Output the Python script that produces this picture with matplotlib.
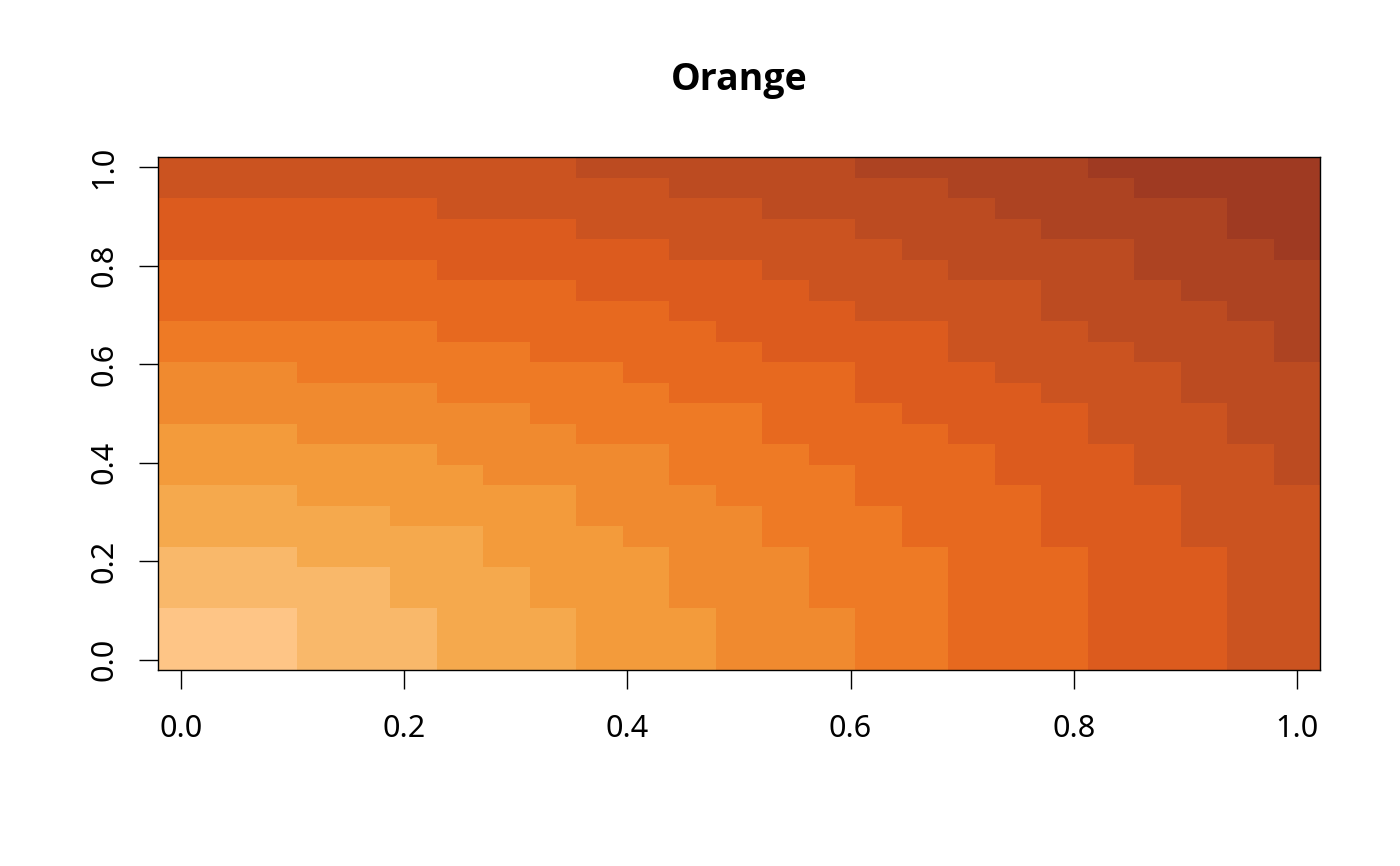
import numpy as np
import matplotlib.pyplot as plt
from matplotlib.colors import ListedColormap, BoundaryNorm

plt.rcParams['font.family'] = ['Noto Sans', 'DejaVu Sans']

# 25 x 25 grid on [0, 1] x [0, 1]
x_vals = np.linspace(0, 1, 25)
y_vals = np.linspace(0, 1, 25)

# colour class of each cell (1..9, a=10, b=11, c=12), bottom row first
level_rows = [
    "111 222 333 444 555 66 777 888 99",
    "111 222 333 444 555 66 777 888 99",
    "111 222 333 444 555 66 777 888 99",
    "22222 333 444 555 666 777 888 99",
    "22222 333 444 555 666 777 888 99",
    "222 3333 4444 555 666 777 888 99",
    "3333333 444 555 666 777 888 999",
    "33333 4444 5555 666 777 888 999",
    "333 444444 555 666 7777 888 999",
    "4444444 5555 6666 777 888 999 a",
    "444444 55555 666 7777 888 999 a",
    "444 555555 6666 7777 888 999 aa",
    "55555555 66666 777 8888 999 aa",
    "555555 66666 7777 8888 999 aaa",
    "555 6666666 77777 888 9999 aaa",
    "66666666 77777 8888 9999 aaa b",
    "666666 777777 88888 999 aaaa b",
    "77777777777 8888 9999 aaaa bb",
    "777777777 88888 99999 aaa bbb",
    "777777 8888888 9999 aaaa bbbb",
    "88888888888 99999 aaaaa bbb c",
    "888888888 999999 aaaa bbbb cc",
    "888888 9999999 aaaaa bbbbb cc",
    "99999999999 aaaaaa bbbb cccc",
    "999999999 aaaaaa bbbbb ccccc",
]

palette = ["#FEC586", "#F9B86A", "#F5A94D", "#F39B3B", "#F08A2F", "#EE7A25",
           "#E7691F", "#DC5B1E", "#CB5320", "#BC4B21", "#AD4322", "#9F3A22"]

z = np.array([[int(c, 16) for c in r.replace(" ", "")] for r in level_rows])

fig = plt.figure(figsize=(14, 8.66), dpi=100)
ax = fig.add_axes([158/1400, 1-670/866, (1320-158)/1400, (670-157)/866])

cmap = ListedColormap(palette)
norm = BoundaryNorm(np.arange(0.5, 13.5, 1), cmap.N)
ax.pcolormesh(x_vals, y_vals, z, cmap=cmap, norm=norm, shading='nearest')

ticks = [0.0, 0.2, 0.4, 0.6, 0.8, 1.0]
ax.set_xticks(ticks)
ax.set_xticklabels(['%.1f' % t for t in ticks])
ax.set_yticks(ticks)
ax.set_yticklabels(['%.1f' % t for t in ticks], rotation=90, va='center')

ax.tick_params(direction='out', length=13.5, width=1.0, labelsize=22, colors='black')
ax.tick_params(axis='x', pad=18)
ax.tick_params(axis='y', pad=14)
for s in ax.spines.values():
    s.set_linewidth(1.0)
    s.set_color('black')

fig.text(739/1400, 1-80/866, "Orange", ha='center', va='center',
         fontsize=27, fontweight='bold', family=['Open Sans', 'DejaVu Sans'])

fig.savefig('out.png', dpi=100)
